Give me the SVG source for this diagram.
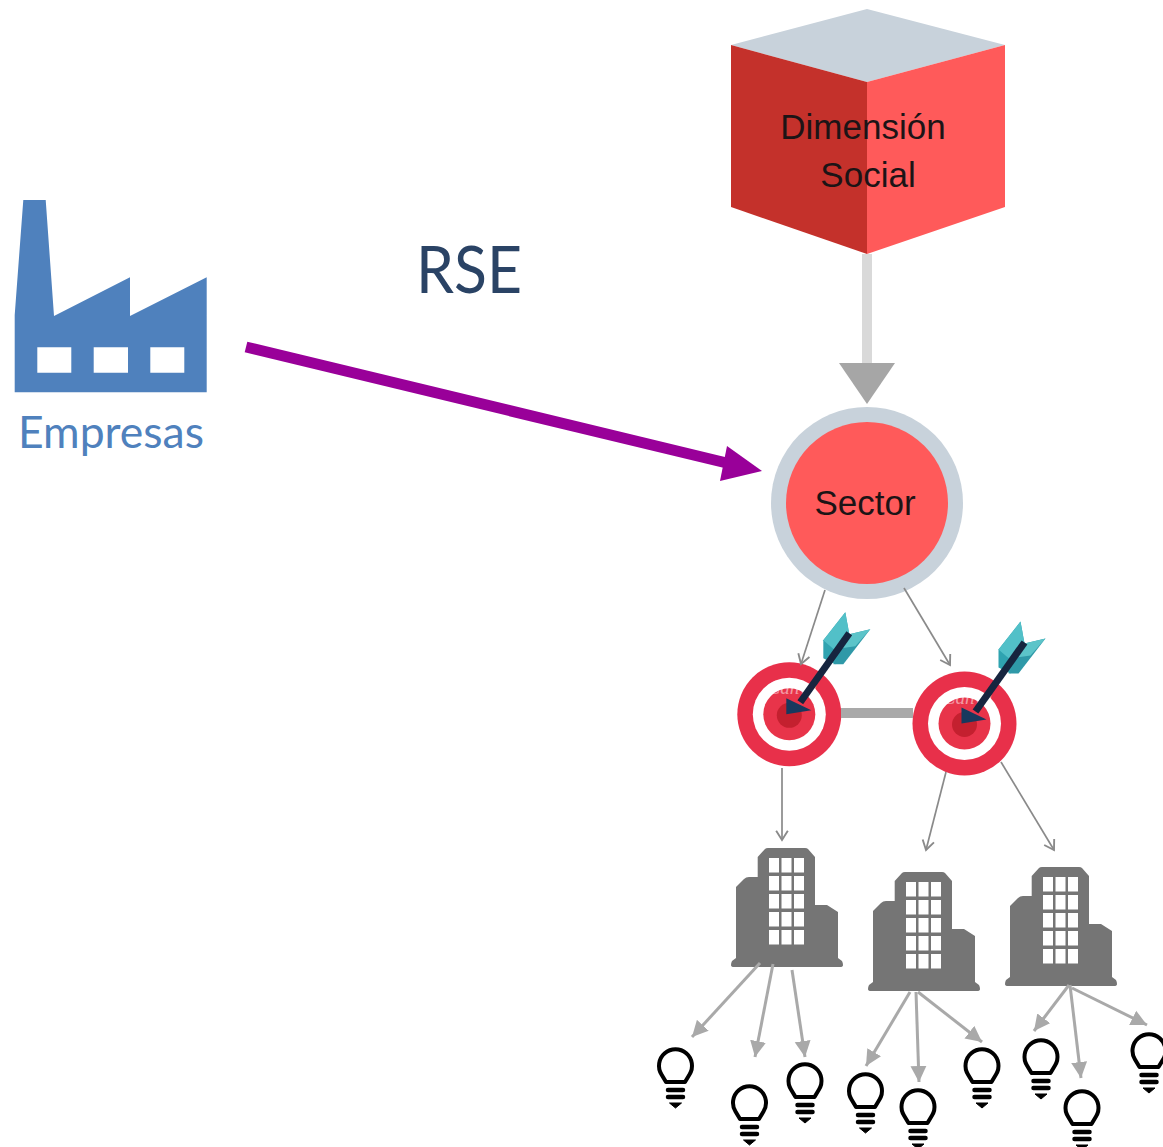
<svg xmlns="http://www.w3.org/2000/svg" xmlns:xlink="http://www.w3.org/1999/xlink" width="1163" height="1147" viewBox="0 0 1163 1147">
<style>
.lbl{font-family:"Liberation Sans",Arial,sans-serif;font-size:35px;fill:#1c1416;text-anchor:middle}
.thin{fill:none;stroke:#8a8a8a;stroke-width:1.7;marker-end:url(#open)}
.mid{fill:none;stroke:#a9a9a9;stroke-width:3;marker-end:url(#solid)}
.bulb{fill:none;stroke:#000;stroke-width:4}
.wm{font-family:"Liberation Serif",serif;font-style:italic;font-size:19px;fill:#fff;fill-opacity:.5;text-anchor:middle}
</style>
<defs>
<marker id="open" markerUnits="userSpaceOnUse" markerWidth="14" markerHeight="14" refX="10" refY="6" orient="auto" viewBox="0 0 12 12"><path d="M2 1L10 6L2 11" fill="none" stroke="#8a8a8a" stroke-width="1.6"/></marker>
<marker id="solid" markerUnits="userSpaceOnUse" markerWidth="17" markerHeight="17" refX="16" refY="8" orient="auto" viewBox="0 0 17 16"><path d="M0 0L16 8L0 16Z" fill="#a9a9a9"/></marker>
<g id="bulb-shape">
<path class="bulb" d="M-9.500 17L-14 9.500A16.500 16.500 0 1 1 14 9.500L9.500 17Z" stroke-linejoin="round"/>
<path d="M-7.500 25H7.500M-7.500 32H7.500" stroke="#000" stroke-width="4.500" stroke-linecap="round"/>
<path d="M-6 38H6L0 43Z" fill="#000" stroke="#000" stroke-linejoin="round"/>
</g>
<g id="building-shape">
<path fill="#757575" d="M26.700 29V9L34 1Q35 0 37 0H74Q76 0 77 1L84 9V57H96L107 64V110L111 113Q112 115 112 117Q112 119 109 119H3Q0 119 0 117Q0 115 1 113L5 110V39L13 31Q15 29 18 29Z"/>
<g fill="#fff"><rect x="38" y="10" width="10" height="14.500"/><rect x="50.500" y="10" width="10" height="14.500"/><rect x="63" y="10" width="10" height="14.500"/><rect x="38" y="28" width="10" height="14.500"/><rect x="50.500" y="28" width="10" height="14.500"/><rect x="63" y="28" width="10" height="14.500"/><rect x="38" y="46" width="10" height="14.500"/><rect x="50.500" y="46" width="10" height="14.500"/><rect x="63" y="46" width="10" height="14.500"/><rect x="38" y="64" width="10" height="14.500"/><rect x="50.500" y="64" width="10" height="14.500"/><rect x="63" y="64" width="10" height="14.500"/><rect x="38" y="82" width="10" height="14.500"/><rect x="50.500" y="82" width="10" height="14.500"/><rect x="63" y="82" width="10" height="14.500"/></g>
</g>
<g id="target-shape">
<circle r="52" fill="#e8304a"/><circle r="36.500" fill="#fff"/><circle r="26" fill="#e8344a"/><circle cy="1" r="12.500" fill="#c4202f"/>
<text class="wm" x="3" y="-20">Canva</text>
<path fill="#2fa3b0" d="M56 -102L60 -80L46 -50L34 -56L34 -74Z"/>
<path fill="#52c0c8" d="M56 -102L60 -80L48 -62L34 -74Z"/>
<path fill="#2f99a8" d="M81 -85L60 -80L44 -50L54 -50Z"/>
<path fill="#5cc4c9" d="M81 -85L60 -80L52 -66L66 -68Z"/>
<path d="M60 -81L11 -12" stroke="#16253f" stroke-width="7"/>
<path fill="#17395e" d="M-3 -16L22 -4L-3 0Z"/>
</g>
</defs>
<g id="empresas">
<path fill="#4f81bd" fill-rule="evenodd" d="M23.300 200H45.700L54 316L130 277.300V316L206.700 277.300V392.300H14.700V315ZM37.300 347.300V372.700H71.300V347.300ZM93.700 347.300V372.700H128V347.300ZM150.300 347.300V372.700H184.300V347.300Z"/>
<text x="18" y="448" font-family="Lato,sans-serif" font-size="44" fill="#4f81bd" textLength="186" lengthAdjust="spacingAndGlyphs">Empresas</text>
</g>
<g id="rse"><text x="416" y="293" font-family="Lato,sans-serif" font-size="66" fill="#2a4365" textLength="106" lengthAdjust="spacingAndGlyphs">RSE</text></g>
<g id="dimension-social">
<path fill="#c8d2db" d="M731 45L867 9L1005 45L867 82Z"/>
<path fill="#c4312b" d="M731 45L867 82V254L731 207Z"/>
<path fill="#ff5a5a" d="M867 82L1005 45V207L867 254Z"/>
<text class="lbl" x="863" y="139">Dimensión</text>
<text class="lbl" x="868" y="187">Social</text>
</g>
<g id="sector">
<circle cx="867" cy="503" r="96" fill="#c8d2db"/>
<circle cx="867" cy="503" r="81" fill="#ff5a5a"/>
<text class="lbl" x="865" y="515">Sector</text>
</g>
<g id="objetivo-1"><use href="#target-shape" x="789.300" y="714.300"/></g>
<g id="objetivo-2"><use href="#target-shape" x="964.500" y="723.500"/></g>
<g id="edificio-1"><use href="#building-shape" x="731" y="848"/></g>
<g id="edificio-2"><use href="#building-shape" x="868" y="872"/></g>
<g id="edificio-3"><use href="#building-shape" x="1005" y="867"/></g>
<g id="idea-1"><use href="#bulb-shape" x="675.500" y="1065"/></g>
<g id="idea-2"><use href="#bulb-shape" x="749.500" y="1102"/></g>
<g id="idea-3"><use href="#bulb-shape" x="805" y="1080"/></g>
<g id="idea-4"><use href="#bulb-shape" x="865.500" y="1090"/></g>
<g id="idea-5"><use href="#bulb-shape" x="918" y="1106"/></g>
<g id="idea-6"><use href="#bulb-shape" x="982" y="1065"/></g>
<g id="idea-7"><use href="#bulb-shape" x="1041" y="1056"/></g>
<g id="idea-8"><use href="#bulb-shape" x="1082" y="1107"/></g>
<g id="idea-9"><use href="#bulb-shape" x="1149" y="1050"/></g>
<g id="connectors">
<line x1="867" y1="254" x2="867" y2="366" stroke="#d9d9d9" stroke-width="10"/>
<path d="M839 363H895L867 404Z" fill="#a6a6a6"/>
<line x1="246" y1="347" x2="735" y2="465" stroke="#990099" stroke-width="11"/>
<path d="M727 446L762 471L720 481Z" fill="#990099"/>
<line x1="841" y1="713" x2="913" y2="713" stroke="#a9a9a9" stroke-width="10"/>
<line class="thin" x1="825" y1="590" x2="801" y2="664"/>
<line class="thin" x1="904" y1="588" x2="950" y2="665"/>
<line class="thin" x1="782" y1="768" x2="782" y2="840"/>
<line class="thin" x1="946" y1="772" x2="926" y2="850"/>
<line class="thin" x1="1001" y1="762" x2="1054" y2="850"/>
<line class="mid" x1="760" y1="963" x2="692" y2="1037"/>
<line class="mid" x1="773" y1="964" x2="755" y2="1057"/>
<line class="mid" x1="792" y1="970" x2="805" y2="1057"/>
<line class="mid" x1="910" y1="992" x2="866" y2="1066"/>
<line class="mid" x1="916" y1="992" x2="919" y2="1082"/>
<line class="mid" x1="918" y1="992" x2="982" y2="1042"/>
<line class="mid" x1="1069" y1="985" x2="1034" y2="1031"/>
<line class="mid" x1="1070" y1="985" x2="1081" y2="1078"/>
<line class="mid" x1="1072" y1="988" x2="1147" y2="1025"/>
</g>
</svg>
